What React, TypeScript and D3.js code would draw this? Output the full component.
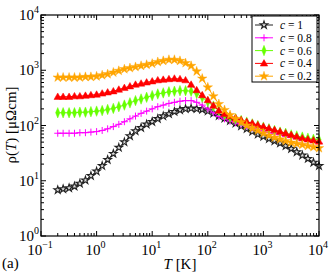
import React from "react";
import * as d3 from "d3";

const temps = [0.2,0.25,0.32,0.4,0.5,0.63,0.79,1,1.26,1.58,2,2.51,3.16,3.98,5.01,6.31,7.94,10,12.6,15.8,20,25.1,31.6,39.8,50.1,63.1,79.4,100,126,158,200,251,316,398,501,631,794,1000,1259,1585,1995,2512,3162,3981,5012,6310,7943,10000];

const rhoC10 = [6.8,7.1,7.4,7.9,8.9,10.2,12.3,14.8,18.6,24.0,30.9,39.8,50.1,64.6,79.4,91.2,105,117,132,148,162,178,191,200,204,200,195,182,166,150,135,122,110,97.7,87.1,77.6,69.2,63.1,57.5,52.5,47.9,42.7,38.0,33.1,28.8,25.1,21.4,18.6];
const rhoC08 = [72.4,72.4,72.4,72.4,74.1,74.1,75.9,77.6,81.3,87.1,95.5,105,117,132,148,166,182,200,219,234,251,263,275,282,282,263,234,200,170,145,132,120,112,105,97.7,91.2,85.1,79.4,74.1,70.8,67.6,63.1,60.3,57.5,55.0,52.5,50.1,47.9];
const rhoC06 = [170,170,170,170,174,174,178,182,186,195,204,219,234,257,282,302,324,347,372,389,407,417,427,427,417,380,324,269,224,186,158,141,132,123,115,107,100,93.3,87.1,81.3,75.9,72.4,67.6,64.6,61.7,58.9,56.2,55.0];
const rhoC04 = [331,331,331,339,339,347,355,363,380,398,417,447,479,513,550,575,603,631,661,676,692,708,692,661,550,437,355,288,229,186,162,148,138,126,117,110,102,95.5,89.1,83.2,77.6,72.4,67.6,63.1,58.9,56.2,53.7,51.3];
const rhoC02 = [741,741,741,741,741,759,759,776,813,851,912,977,1047,1096,1148,1202,1259,1318,1413,1479,1549,1549,1479,1349,1202,955,708,490,339,245,191,155,132,115,100,89.1,81.3,72.4,66.1,60.3,56.2,52.5,49.0,46.8,44.7,42.7,40.7,38.9];

const seriesLabels = ["1", "0.8", "0.6", "0.4", "0.2"];
const seriesColors = ["#222222", "#ff00ff", "#66ff00", "#ff0000", "#ffa500"];
const seriesMarkers = ["openstar", "plus", "diamond", "triangle", "star"];
const seriesValues = [rhoC10, rhoC08, rhoC06, rhoC04, rhoC02];

const xExps = [-1, 0, 1, 2, 3, 4];
const yExps = [0, 1, 2, 3, 4];

const FONT = "'Liberation Serif', 'Times New Roman', serif";

function Marker({ kind, x, y, color }: { kind: string; x: number; y: number; color: string }) {
  if (kind === "plus") {
    return (
      <g stroke={color} strokeWidth={1}>
        <line x1={x - 3.5} x2={x + 3.5} y1={y} y2={y} />
        <line x1={x} x2={x} y1={y - 3.5} y2={y + 3.5} />
      </g>
    );
  }
  if (kind === "diamond") {
    const p = d3.symbol().type(d3.symbolDiamond).size(24)();
    return <path d={p || ""} transform={`translate(${x},${y}) scale(0.8,1.15)`} fill={color} stroke={color} strokeWidth={0.5} />;
  }
  if (kind === "triangle") {
    const p = d3.symbol().type(d3.symbolTriangle).size(24)();
    return <path d={p || ""} transform={`translate(${x},${y + 0.5})`} fill={color} stroke={color} strokeWidth={0.5} />;
  }
  if (kind === "star") {
    const p = d3.symbol().type(d3.symbolStar).size(28)();
    return <path d={p || ""} transform={`translate(${x},${y})`} fill={color} stroke={color} strokeWidth={0.4} />;
  }
  const p = d3.symbol().type(d3.symbolStar).size(18)();
  return <path d={p || ""} transform={`translate(${x},${y})`} fill="#dddddd" stroke={color} strokeWidth={1.1} />;
}

function Pow10({ x, y, exp, anchor }: { x: number; y: number; exp: number; anchor: string }) {
  const e = exp < 0 ? "\u2212" + Math.abs(exp) : String(exp);
  return (
    <text x={x} y={y} textAnchor={anchor} fontFamily={FONT} fontSize={15} fill="#000">
      10<tspan dy={-7} fontSize={10}>{e}</tspan>
    </text>
  );
}

export default function App() {
  const W = 332, H = 273;
  const left = 41, right = 319, top = 15, bottom = 236;
  const x = d3.scaleLog().domain([1e-1, 1e4]).range([left, right]);
  const y = d3.scaleLog().domain([1, 1e4]).range([bottom, top]);

  const line = d3.line<[number, number]>().x((d) => x(d[0])).y((d) => y(d[1]));

  const xMinor: number[] = [];
  xExps.slice(0, -1).forEach((e) => { for (let k = 2; k <= 9; k++) xMinor.push(k * Math.pow(10, e)); });
  const yMinor: number[] = [];
  yExps.slice(0, -1).forEach((e) => { for (let k = 2; k <= 9; k++) yMinor.push(k * Math.pow(10, e)); });

  const maj = 5, mnr = 3;
  const legendX = 252, legendY = 16, legendW = 65, legendH = 66;

  return (
    <svg width={W} height={H} style={{ position: "absolute", left: 0, top: 0, background: "#fff" }}>
      {seriesValues.map((vals, si) => {
        const pts = temps.map((t, i) => [t, vals[i]] as [number, number]);
        return (
          <g key={si}>
            <path d={line(pts) || ""} fill="none" stroke={seriesColors[si]} strokeWidth={1} />
            {pts.map((p, i) => (
              <Marker key={i} kind={seriesMarkers[si]} x={x(p[0])} y={y(p[1])} color={seriesColors[si]} />
            ))}
          </g>
        );
      })}
      <rect x={left} y={top} width={right - left} height={bottom - top} fill="none" stroke="#000" strokeWidth={1.2} />
      <g stroke="#000" strokeWidth={1}>
        {xExps.map((e) => {
          const px = x(Math.pow(10, e));
          return (
            <g key={"xm" + e}>
              <line x1={px} x2={px} y1={bottom} y2={bottom - maj} />
              <line x1={px} x2={px} y1={top} y2={top + maj} />
            </g>
          );
        })}
        {xMinor.map((v, i) => {
          const px = x(v);
          return (
            <g key={"xn" + i}>
              <line x1={px} x2={px} y1={bottom} y2={bottom - mnr} />
              <line x1={px} x2={px} y1={top} y2={top + mnr} />
            </g>
          );
        })}
        {yExps.map((e) => {
          const py = y(Math.pow(10, e));
          return (
            <g key={"ym" + e}>
              <line x1={left} x2={left + maj} y1={py} y2={py} />
              <line x1={right} x2={right - maj} y1={py} y2={py} />
            </g>
          );
        })}
        {yMinor.map((v, i) => {
          const py = y(v);
          return (
            <g key={"yn" + i}>
              <line x1={left} x2={left + mnr} y1={py} y2={py} />
              <line x1={right} x2={right - mnr} y1={py} y2={py} />
            </g>
          );
        })}
      </g>
      {xExps.map((e) => (
        <Pow10 key={"xl" + e} x={x(Math.pow(10, e)) - 1} y={255} exp={e} anchor="middle" />
      ))}
      {yExps.map((e) => (
        <Pow10 key={"yl" + e} x={39} y={y(Math.pow(10, e)) + 5} exp={e} anchor="end" />
      ))}
      <text x={180} y={269} textAnchor="middle" fontFamily={FONT} fontSize={15}>
        <tspan fontStyle="italic">T</tspan> [K]
      </text>
      <text transform={`translate(16,125) rotate(-90)`} textAnchor="middle" fontFamily={FONT} fontSize={15}>
        ρ(<tspan fontStyle="italic">T</tspan>) [μΩcm]
      </text>
      <text x={2} y={268} fontFamily={FONT} fontSize={15}>(a)</text>
      <rect x={legendX} y={legendY} width={legendW} height={legendH} fill="#fff" stroke="#000" strokeWidth={1} />
      {seriesLabels.map((lab, si) => {
        const ly = 25 + si * 12.8;
        return (
          <g key={"lg" + si}>
            <line x1={255} x2={273} y1={ly} y2={ly} stroke={seriesColors[si]} strokeWidth={1} />
            <Marker kind={seriesMarkers[si]} x={264} y={ly} color={seriesColors[si]} />
            <text x={280} y={ly + 4} fontFamily={FONT} fontSize={11.5}>
              <tspan fontStyle="italic">c</tspan> = {lab}
            </text>
          </g>
        );
      })}
    </svg>
  );
}
